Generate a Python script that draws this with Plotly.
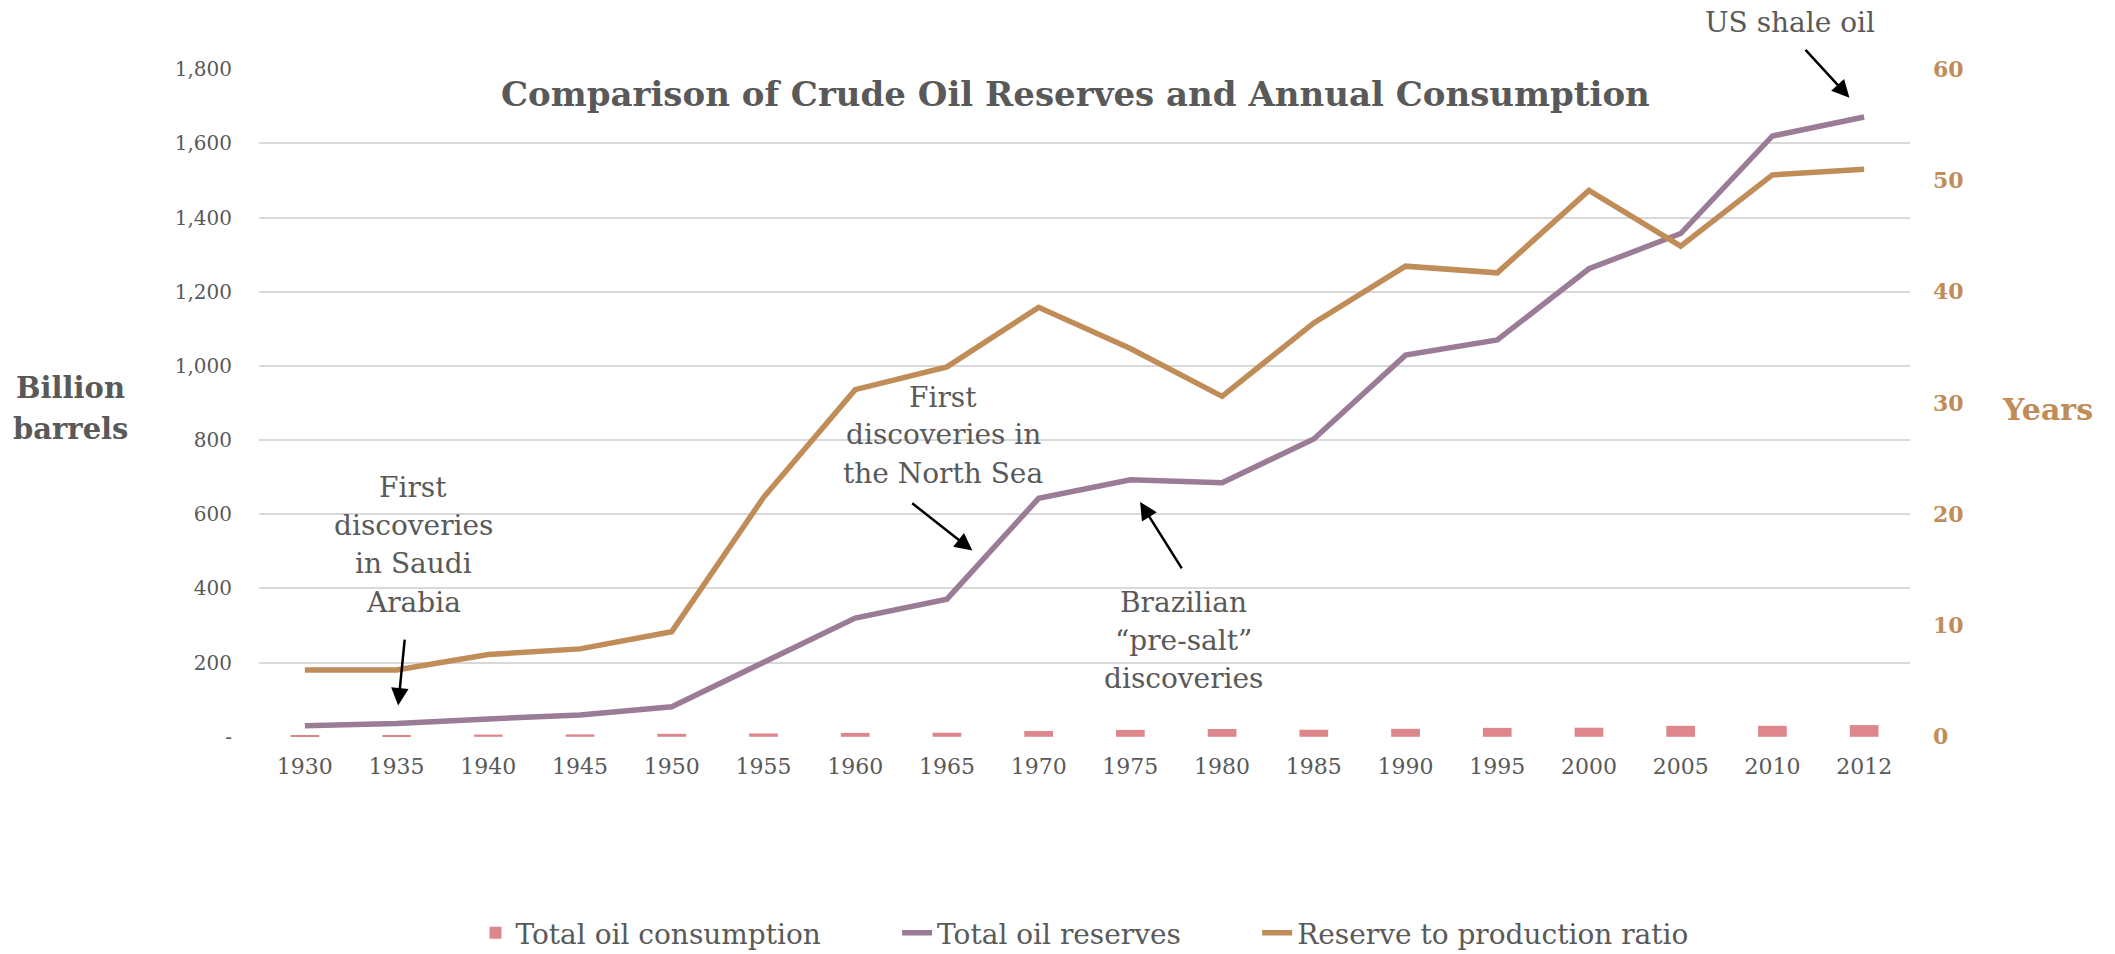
import plotly.graph_objects as go

# Data
years = ["1930", "1935", "1940", "1945", "1950", "1955", "1960", "1965", "1970",
         "1975", "1980", "1985", "1990", "1995", "2000", "2005", "2010", "2012"]
consumption = [4, 4.5, 6, 6.5, 8, 9, 10.5, 11, 15.5, 18.5, 21, 19, 21.5, 24, 24.5,
               29.5, 29.5, 31.5]
reserves = [30, 36, 48, 59, 81, 199, 320, 371, 643, 693, 685, 803, 1029, 1070,
            1262, 1357, 1620, 1671]
rp_ratio = [6.0, 6.0, 7.4, 7.9, 9.45, 21.5, 31.2, 33.25, 38.6, 34.9, 30.6, 37.2,
            42.3, 41.7, 49.1, 44.1, 50.5, 51.0]

left_ticks = [0, 200, 400, 600, 800, 1000, 1200, 1400, 1600, 1800]
left_ticktext = ["-", "200", "400", "600", "800", "1,000", "1,200", "1,400", "1,600", "1,800"]
right_ticks = [0, 10, 20, 30, 40, 50, 60]

GREY = "#595959"
PURPLE = "#9b7c96"
ORANGE = "#c08c58"
PINK = "#dd878c"
FONT = "DejaVu Serif"

# plot area geometry (pixels) used to place free text in paper units
W, H = 2115, 954
L, R, T, B = 259, 205, 69, 217
PW, PH = W - L - R, H - T - B


def px(x):
    return (x - L) / PW


def py(y):
    return (H - B - y) / PH


fig = go.Figure()
fig.add_trace(go.Bar(x=years, y=consumption, name="Total oil consumption" + "\u00a0" * 8,
                     marker=dict(color=PINK, line=dict(width=0)), yaxis="y"))
fig.add_trace(go.Scatter(x=years, y=reserves, name="Total oil reserves" + "\u00a0" * 8,
                         mode="lines", line=dict(color=PURPLE, width=5.5), yaxis="y"))
fig.add_trace(go.Scatter(x=years, y=rp_ratio, name="Reserve to production ratio",
                         mode="lines", line=dict(color=ORANGE, width=5.5), yaxis="y2"))

pad = 0.6
fig.update_layout(
    width=W, height=H,
    margin=dict(l=L, r=R, t=T, b=B, autoexpand=False),
    plot_bgcolor="white", paper_bgcolor="white",
    bargap=0.687,
    font=dict(family=FONT, color=GREY),
    showlegend=True,
    legend=dict(orientation="h", x=0.5, xanchor="center", xref="paper",
                y=(H - 933) / H, yanchor="middle", yref="container",
                font=dict(size=28, color=GREY, family=FONT), traceorder="normal"),
    xaxis=dict(type="category", showgrid=False, zeroline=False, showline=False,
               tickfont=dict(size=22, color=GREY), ticks="", ticklabelstandoff=14),
    yaxis=dict(range=[-pad, 1800 + pad], tickvals=left_ticks, ticktext=left_ticktext,
               showgrid=True, gridcolor="#d9d9d9", gridwidth=1.5, zeroline=False,
               showline=False, ticks="", tickfont=dict(size=20, color=GREY),
               ticklabelstandoff=26),
    yaxis2=dict(range=[-pad / 30, 60 + pad / 30], tickvals=right_ticks, overlaying="y",
                side="right", showgrid=False, zeroline=False, showline=False, ticks="",
                tickfont=dict(size=22, color=ORANGE, family=FONT, weight=700),
                ticklabelstandoff=22),
)

# Title and axis titles
fig.add_annotation(text="<b>Comparison of Crude Oil Reserves and Annual Consumption</b>",
                   xref="paper", yref="paper", x=px(1075), y=py(94),
                   xanchor="center", yanchor="middle", showarrow=False,
                   font=dict(size=34, color=GREY))
for word, yy in [("Billion", 388), ("barrels", 429)]:
    fig.add_annotation(text="<b>%s</b>" % word, xref="paper", yref="paper",
                       x=px(70), y=py(yy), xanchor="center", yanchor="middle",
                       showarrow=False, font=dict(size=29, color=GREY))
fig.add_annotation(text="<b>Years</b>", xref="paper", yref="paper",
                   x=px(2047), y=py(409), xanchor="center", yanchor="middle",
                   showarrow=False, font=dict(size=30, color=ORANGE))

# Callout texts, one line at a time: (text, centre x px, centre y px)
note_lines = [
    ("First", 413, 487), ("discoveries", 413, 525), ("in Saudi", 413, 563),
    ("Arabia", 413, 602),
    ("First", 943, 397), ("discoveries in", 943, 435), ("the North Sea", 943, 473),
    ("Brazilian", 1183, 602), ("\u201cpre-salt\u201d", 1183, 640),
    ("discoveries", 1183, 678),
    ("US shale oil", 1790, 22),
]
for txt, xx, yy in note_lines:
    fig.add_annotation(text=txt, x=px(xx), y=py(yy), xref="paper", yref="paper",
                       showarrow=False, xanchor="center", yanchor="middle",
                       font=dict(size=28, color=GREY))

# Callout arrows: (tail x, tail y, head x, head y) in axis units
arrows = [
    (1.09, 266, 1.017, 84),
    (6.605, 633, 7.277, 502),
    (9.571, 450, 9.106, 633),
    (16.346, 1856, 16.84, 1723),
]
for tx, ty, hx, hy in arrows:
    fig.add_annotation(text="", x=hx, y=hy, ax=tx, ay=ty, xref="x", yref="y",
                       axref="x", ayref="y", showarrow=True, arrowhead=2,
                       arrowsize=1.4, arrowwidth=2.5, arrowcolor="black",
                       standoff=0, startstandoff=0)

fig.write_html("out.html")
